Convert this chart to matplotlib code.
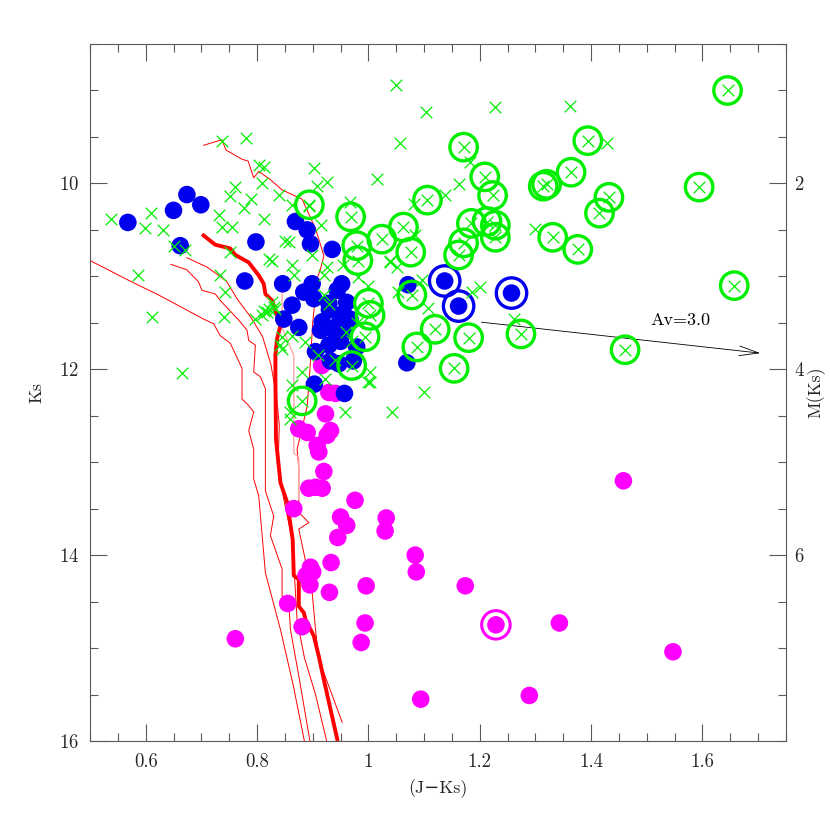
import matplotlib
matplotlib.use('Agg')
import matplotlib.pyplot as plt
from matplotlib.ticker import MultipleLocator, FixedLocator, FixedFormatter

plt.rcParams['font.family'] = ['cmr10', 'DejaVu Serif']
plt.rcParams['axes.formatter.use_mathtext'] = True

# isochrone tracks (J-Ks, Ks)
thick_x = [0.704, 0.725, 0.752, 0.761, 0.785, 0.803, 0.812, 0.815, 0.827, 0.842, 0.836, 0.833,
           0.833, 0.834, 0.842, 0.854, 0.864, 0.866, 0.875, 0.875, 0.884, 0.887, 0.902, 0.911,
           0.920, 0.944]
thick_y = [10.56, 10.66, 10.70, 10.77, 10.85, 10.99, 11.08, 11.19, 11.26, 11.53, 11.67, 11.85,
           12.10, 12.75, 13.22, 13.43, 13.83, 14.22, 14.26, 14.55, 14.62, 14.69, 14.87, 15.09,
           15.34, 15.98]

thin1_x = [0.50, 0.575, 0.623, 0.704, 0.722, 0.734, 0.752, 0.773, 0.773, 0.785, 0.794, 0.785,
           0.794, 0.794, 0.803, 0.815, 0.842, 0.865, 0.885]
thin1_y = [10.83, 11.06, 11.20, 11.46, 11.51, 11.64, 11.72, 11.99, 12.32, 12.39, 12.46, 12.66,
           12.86, 13.18, 13.36, 14.19, 14.80, 15.40, 16.00]

thin2_x = [0.645, 0.674, 0.695, 0.701, 0.725, 0.734, 0.767, 0.782, 0.785, 0.797, 0.794, 0.806,
           0.815, 0.815, 0.815, 0.830, 0.824, 0.845, 0.845, 0.857, 0.860, 0.875, 0.895]
thin2_y = [10.87, 10.93, 11.06, 11.15, 11.19, 11.26, 11.47, 11.58, 11.69, 11.74, 12.03, 12.08,
           12.21, 12.86, 13.31, 13.58, 13.79, 14.15, 14.44, 14.51, 14.80, 15.30, 16.00]

thin3_x = [0.674, 0.710, 0.745, 0.765, 0.790, 0.810, 0.825, 0.835, 0.840, 0.838, 0.848, 0.862,
           0.868, 0.872, 0.885, 0.905, 0.925]
thin3_y = [10.80, 10.90, 11.05, 11.25, 11.45, 11.65, 11.95, 12.30, 12.60, 13.00, 13.40, 13.80,
           14.30, 14.70, 15.10, 15.50, 16.00]

thin4_x = [0.704, 0.737, 0.744, 0.773, 0.784, 0.794, 0.803, 0.824, 0.845, 0.881, 0.905, 0.911,
           0.920, 0.914, 0.908, 0.900, 0.895, 0.890, 0.872, 0.875, 0.875, 0.893, 0.875, 0.899,
           0.905, 0.911, 0.953]
thin4_y = [9.59, 9.53, 9.64, 9.74, 9.76, 9.94, 9.87, 9.96, 10.07, 10.17, 10.49, 10.60,
           10.78, 10.92, 11.02, 11.50, 12.00, 12.40, 12.86, 13.07, 13.54, 13.65, 13.72, 14.40,
           14.80, 15.12, 15.80]

pale_x = [0.845, 0.845, 0.866, 0.866, 0.875, 0.875]
pale_y = [11.15, 11.55, 11.85, 12.90, 12.95, 13.40]

# green crosses
gx_x = [0.737, 0.781, 0.803, 0.812, 0.809, 0.761, 0.752, 0.790, 0.776, 0.839, 0.813, 0.731,
        0.737, 0.755, 0.538, 0.610, 0.599, 0.631, 0.650, 0.671, 0.851, 0.821, 0.827, 0.586,
        0.734, 0.752, 0.743, 0.827, 0.821, 0.611, 0.740, 0.809, 0.902, 0.925, 0.908, 0.893,
        0.967, 0.915, 0.863, 1.050, 1.103, 1.228, 1.362, 1.057, 1.428, 1.015, 1.162, 1.183,
        1.137, 1.081, 1.299, 1.084, 1.039, 1.051, 1.096, 1.201, 1.186, 1.054, 1.107, 1.262,
        1.099, 1.003, 1.003, 0.857, 0.925, 0.899, 0.863, 0.920, 0.955, 0.982, 1.000, 1.039,
        0.833, 0.863, 0.842, 0.887, 0.881, 0.922, 0.958, 1.000, 1.042, 0.860, 0.665, 0.866,
        0.812, 0.818, 0.830, 0.797, 0.845, 0.845, 0.863, 0.860, 0.920, 0.960, 0.940, 0.970,
        0.930, 0.980, 0.910, 0.894, 0.968, 0.979, 0.981, 1.000, 1.003, 0.994, 0.970, 0.881,
        1.171, 1.394, 1.209, 1.223, 1.364, 1.314, 1.320, 1.594, 1.432, 1.415, 1.106, 1.063,
        1.024, 1.076, 1.185, 1.213, 1.228, 1.228, 1.171, 1.162, 1.331, 1.376, 1.657, 1.078,
        1.120, 1.180, 1.087, 1.154, 1.274, 1.461, 1.645]
gx_y = [9.54, 9.51, 9.80, 9.82, 10.00, 10.04, 10.14, 10.17, 10.27, 10.12, 10.38, 10.34,
        10.47, 10.47, 10.38, 10.32, 10.48, 10.50, 10.67, 10.72, 10.62, 10.81, 10.83, 10.99,
        10.99, 10.74, 11.17, 11.28, 11.35, 11.44, 11.44, 11.42, 9.83, 9.98, 10.03, 10.24,
        10.20, 10.45, 10.23, 8.94, 9.23, 9.18, 9.17, 9.57, 9.56, 9.95, 10.01, 9.77,
        10.13, 10.22, 10.49, 10.56, 10.85, 10.90, 11.04, 11.12, 11.17, 11.17, 11.34, 11.46,
        12.24, 12.03, 12.14, 10.63, 10.90, 10.77, 10.88, 10.99, 10.88, 11.01, 11.10, 10.84,
        11.35, 11.64, 11.74, 11.71, 12.03, 12.10, 12.46, 12.14, 12.46, 12.46, 12.04, 10.99,
        11.37, 11.38, 11.33, 11.46, 11.65, 11.78, 12.17, 12.53, 11.20, 11.60, 11.90, 11.70,
        11.30, 11.50, 11.85, 10.23, 10.36, 10.67, 10.83, 11.29, 11.42, 11.65, 11.96, 12.34,
        9.61, 9.54, 9.93, 10.13, 9.88, 10.03, 10.01, 10.04, 10.15, 10.32, 10.18, 10.47,
        10.60, 10.74, 10.43, 10.41, 10.45, 10.58, 10.64, 10.77, 10.58, 10.71, 11.10, 11.20,
        11.57, 11.66, 11.76, 11.99, 11.62, 11.79, 9.00]

# green ringed sources (subset of crosses)
gring_x = [0.894, 0.968, 0.979, 0.981, 1.000, 1.003, 0.994, 0.970, 0.881,
           1.171, 1.394, 1.209, 1.223, 1.364, 1.314, 1.320, 1.594, 1.432, 1.415, 1.106, 1.063,
           1.024, 1.076, 1.185, 1.213, 1.228, 1.228, 1.171, 1.162, 1.331, 1.376, 1.657, 1.078,
           1.120, 1.180, 1.087, 1.154, 1.274, 1.461, 1.645]
gring_y = [10.23, 10.36, 10.67, 10.83, 11.29, 11.42, 11.65, 11.96, 12.34,
           9.61, 9.54, 9.93, 10.13, 9.88, 10.03, 10.01, 10.04, 10.15, 10.32, 10.18, 10.47,
           10.60, 10.74, 10.43, 10.41, 10.45, 10.58, 10.64, 10.77, 10.58, 10.71, 11.10, 11.20,
           11.57, 11.66, 11.76, 11.99, 11.62, 11.79, 9.00]

# blue filled sources
blue_x = [0.568, 0.650, 0.674, 0.699, 0.662, 0.798, 0.778, 0.869, 0.890, 0.896, 0.935, 0.846,
          0.899, 0.884, 0.902, 0.863, 0.848, 0.875, 0.952, 0.944, 0.929, 0.961, 0.917, 0.967,
          0.914, 0.947, 0.938, 0.955, 0.929, 0.905, 0.979, 0.932, 0.947, 0.973, 0.903, 0.957,
          0.930, 0.955, 0.950, 1.071, 1.069, 1.137, 1.162, 1.257]
blue_y = [10.42, 10.29, 10.12, 10.23, 10.67, 10.63, 11.05, 10.41, 10.50, 10.65, 10.71, 11.08,
          11.08, 11.17, 11.24, 11.31, 11.46, 11.55, 11.08, 11.15, 11.29, 11.28, 11.49, 11.46,
          11.58, 11.51, 11.58, 11.59, 11.74, 11.81, 11.76, 11.91, 11.94, 11.91, 12.16, 12.26,
          11.36, 11.40, 11.70, 11.09, 11.93, 11.05, 11.32, 11.18]
bring_x = [1.137, 1.162, 1.257]
bring_y = [11.05, 11.32, 11.18]

# magenta filled sources
mag_x = [0.916, 0.929, 0.941, 0.923, 0.875, 0.890, 0.932, 0.926, 0.908, 0.911, 0.920, 0.893,
         0.905, 0.917, 0.976, 0.866, 0.950, 0.961, 1.032, 1.030, 0.945, 0.933, 0.896, 0.888,
         0.900, 0.895, 0.996, 0.930, 0.855, 0.994, 0.987, 0.881, 0.761, 1.458, 1.084, 1.086,
         1.174, 1.229, 1.343, 1.547, 1.094, 1.289]
mag_y = [11.96, 12.25, 12.26, 12.48, 12.64, 12.68, 12.66, 12.71, 12.82, 12.89, 13.10, 13.28,
         13.27, 13.28, 13.41, 13.50, 13.59, 13.68, 13.60, 13.74, 13.81, 14.08, 14.13, 14.22,
         14.18, 14.32, 14.33, 14.40, 14.52, 14.73, 14.94, 14.77, 14.90, 13.20, 14.00, 14.18,
         14.33, 14.75, 14.73, 15.04, 15.55, 15.51]
mring_x = [1.229]
mring_y = [14.75]

# reddening vector
av_start = (1.198, 11.49)
av_end = (1.709, 11.83)
av_label = 'Av=3.0'

fig = plt.figure(figsize=(8.3, 8.3), dpi=100)
ax = fig.add_axes([90 / 830, 89 / 830, 696 / 830, 697 / 830])

red = '#ff0000'
for tx, ty in [(thin1_x, thin1_y), (thin2_x, thin2_y), (thin3_x, thin3_y), (thin4_x, thin4_y)]:
    ax.plot(tx, ty, color=red, lw=0.7, zorder=1)
ax.plot(pale_x, pale_y, color='#ffaaaa', lw=1.0, zorder=1)
ax.plot(thick_x, thick_y, color=red, lw=2.8, zorder=2)

green = '#00ee00'
ax.scatter(mag_x, mag_y, s=160, color='#ff00ff', edgecolors='none', zorder=3)
ax.scatter(mring_x, mring_y, s=420, facecolors='none', edgecolors='#ff00ff', linewidths=2.2, zorder=3)
ax.scatter(blue_x, blue_y, s=160, color='#0000ee', edgecolors='none', zorder=4)
ax.scatter(bring_x, bring_y, s=480, facecolors='none', edgecolors='#0000ee', linewidths=2.4, zorder=4)
ax.scatter(gx_x, gx_y, s=70, marker='x', color=green, linewidths=0.9, zorder=5)
ax.scatter(gring_x, gring_y, s=390, facecolors='none', edgecolors=green, linewidths=2.4, zorder=6)

ax.annotate('', xy=av_end, xytext=av_start,
            arrowprops=dict(arrowstyle='->,head_length=1.4,head_width=0.35', color='black', lw=0.6))
ax.text(1.56, 11.47, av_label, fontsize=13, ha='center', va='center')

ax.set_xlim(0.5, 1.75)
ax.set_ylim(16, 8.5)
ax.xaxis.set_major_locator(FixedLocator([0.6, 0.8, 1.0, 1.2, 1.4, 1.6]))
ax.xaxis.set_major_formatter(FixedFormatter(['0.6', '0.8', '1', '1.2', '1.4', '1.6']))
ax.xaxis.set_minor_locator(MultipleLocator(0.05))
ax.yaxis.set_major_locator(MultipleLocator(2))
ax.yaxis.set_minor_locator(MultipleLocator(0.5))
ax.tick_params(which='both', direction='in', top=True, right=False, colors='0.35', labelcolor='0.15',
               labelsize=13.5)
ax.tick_params(which='major', length=12, width=0.8)
ax.tick_params(which='minor', length=6, width=0.8)
ax.tick_params(axis='x', pad=9)
ax.tick_params(axis='y', pad=8)
for sp in ax.spines.values():
    sp.set_color('0.35')
    sp.set_linewidth(0.8)

ax2 = ax.twinx()
ax2.set_ylim(16 - 8, 8.5 - 8)
ax2.yaxis.set_major_locator(MultipleLocator(2))
ax2.yaxis.set_minor_locator(MultipleLocator(0.5))
ax2.tick_params(which='both', direction='in', colors='0.35', labelcolor='0.15', labelsize=13.5, pad=6)
ax2.tick_params(which='major', length=12, width=0.8)
ax2.tick_params(which='minor', length=6, width=0.8)
ax2.set_yticks([2, 4, 6])
ax2.set_yticklabels(['2', '4', '6'])
for sp in ax2.spines.values():
    sp.set_visible(False)

ax.set_xlabel('(J\u2212Ks)', fontsize=13, color='0.15', labelpad=6)
ax.set_ylabel('Ks', fontsize=13, color='0.15', labelpad=10)
ax2.set_ylabel('M(Ks)', fontsize=13, color='0.15', labelpad=2)

fig.savefig('out.png', dpi=100)
